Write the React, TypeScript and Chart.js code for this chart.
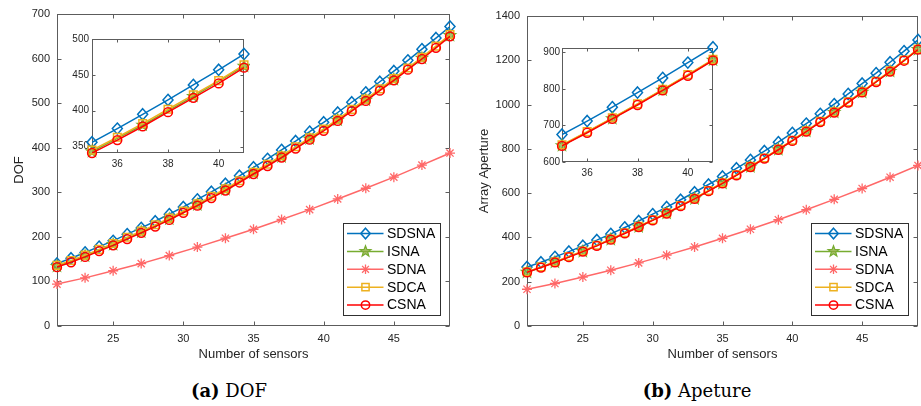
import React, { useEffect, useRef } from 'react';
import { Chart, registerables } from 'chart.js';
Chart.register(...registerables);

// ---------------- data ----------------
const sensors = [21, 22, 23, 24, 25, 26, 27, 28, 29, 30, 31, 32, 33, 34, 35, 36, 37, 38, 39, 40, 41, 42, 43, 44, 45, 46, 47, 48, 49];
const oddSensors = [21, 23, 25, 27, 29, 31, 33, 35, 37, 39, 41, 43, 45, 47, 49];

const dofSDSNA = [140, 152, 165, 178, 191, 206, 220, 235, 251, 267, 284, 301, 319, 337, 356, 375, 395, 415, 436, 457, 479, 502, 524, 548, 572, 596, 621, 646, 672];
const dofISNA = [134, 157, 183, 211, 240, 272, 306, 343, 380, 420, 462, 507, 553, 601, 652];
const dofSDNA = [94, 108, 124, 140, 158, 177, 197, 217, 239, 261, 285, 309, 334, 361, 388];
const dofSDCA = [136, 147, 159, 172, 185, 199, 213, 227, 242, 258, 274, 291, 308, 326, 345, 363, 382, 402, 422, 442, 464, 486, 509, 532, 555, 579, 603, 628, 654];
const dofCSNA = [132, 143, 155, 168, 181, 195, 209, 223, 238, 254, 270, 287, 304, 322, 341, 359, 378, 398, 418, 438, 460, 482, 505, 528, 551, 575, 599, 624, 650];

const apSDSNA = [266, 288, 312, 336, 362, 388, 416, 445, 474, 505, 537, 570, 604, 639, 675, 712, 750, 790, 830, 872, 914, 958, 1002, 1048, 1095, 1142, 1191, 1241, 1292];
const apISNA = [243, 288, 337, 391, 448, 509, 575, 645, 719, 797, 879, 965, 1056, 1150, 1249];
const apSDNA = [166, 192, 221, 252, 285, 320, 357, 396, 437, 480, 525, 572, 621, 672, 725];
const apSDCA = [245, 267, 290, 314, 339, 365, 393, 421, 450, 480, 511, 544, 577, 612, 647, 683, 721, 759, 799, 839, 881, 924, 967, 1012, 1058, 1105, 1152, 1201, 1251];
const apCSNA = [242, 264, 287, 311, 336, 362, 390, 418, 447, 477, 508, 541, 574, 609, 644, 680, 718, 756, 796, 836, 878, 921, 964, 1009, 1055, 1102, 1149, 1198, 1248];

const seriesNames = ['SDSNA', 'ISNA', 'SDNA', 'SDCA', 'CSNA'];

const mainXTicks = [25, 30, 35, 40, 45];
const dofYTicks = [0, 100, 200, 300, 400, 500, 600, 700];
const apYTicks = [0, 200, 400, 600, 800, 1000, 1200, 1400];
const insetXTicks = [36, 38, 40];
const dofInsetYTicks = [350, 400, 450, 500];
const apInsetYTicks = [600, 700, 800, 900];

// ---------------- styles ----------------
const FONT = '"Liberation Sans", Arial, Helvetica, sans-serif';
const TEXT = '#262626';
const AXIS = '#5c5c5c';

const STYLE: Record<string, { color: string; marker: string; order: number }> = {
  SDSNA: { color: '#0072BD', marker: 'diamond', order: 5 },
  ISNA: { color: '#77AC30', marker: 'pentagram', order: 4 },
  SDNA: { color: '#FF6868', marker: 'asterisk', order: 3 },
  SDCA: { color: '#EDB120', marker: 'square', order: 2 },
  CSNA: { color: '#FF0000', marker: 'circle', order: 1 },
};

function drawMarker(ctx: CanvasRenderingContext2D, kind: string, x: number, y: number, color: string, s = 1) {
  ctx.save();
  ctx.strokeStyle = color;
  ctx.lineWidth = 1.5;
  ctx.lineJoin = 'miter';
  ctx.beginPath();
  if (kind === 'diamond') {
    const hw = 5 * s, hh = 5.6 * s;
    ctx.moveTo(x, y - hh);
    ctx.lineTo(x + hw, y);
    ctx.lineTo(x, y + hh);
    ctx.lineTo(x - hw, y);
    ctx.closePath();
    ctx.stroke();
  } else if (kind === 'circle') {
    ctx.arc(x, y, 4.4 * s, 0, Math.PI * 2);
    ctx.stroke();
  } else if (kind === 'square') {
    const h = 3.8 * s;
    ctx.rect(x - h, y - h, 2 * h, 2 * h);
    ctx.stroke();
  } else if (kind === 'asterisk') {
    const r = 5 * s, d = r * 0.72;
    ctx.lineWidth = 1.3;
    ctx.moveTo(x - r, y); ctx.lineTo(x + r, y);
    ctx.moveTo(x, y - r); ctx.lineTo(x, y + r);
    ctx.moveTo(x - d, y - d); ctx.lineTo(x + d, y + d);
    ctx.moveTo(x - d, y + d); ctx.lineTo(x + d, y - d);
    ctx.stroke();
  } else if (kind === 'pentagram') {
    const ro = 6 * s, ri = 2.5 * s;
    for (let i = 0; i < 10; i++) {
      const r = i % 2 === 0 ? ro : ri;
      const a = -Math.PI / 2 + (i * Math.PI) / 5;
      const px = x + r * Math.cos(a), py = y + r * Math.sin(a);
      if (i === 0) ctx.moveTo(px, py); else ctx.lineTo(px, py);
    }
    ctx.closePath();
    ctx.fillStyle = 'rgba(140,170,60,0.75)';
    ctx.fill();
    ctx.lineWidth = 1.2;
    ctx.stroke();
  }
  ctx.restore();
}

const markerPlugin = (scale: number) => ({
  id: 'mlmarkers',
  afterDatasetDraw(chart: any, args: any) {
    const ds = chart.data.datasets[args.index];
    const ctx = chart.ctx;
    args.meta.data.forEach((pt: any) => drawMarker(ctx, ds.marker, pt.x, pt.y, ds.borderColor, scale));
  },
});

const framePlugin = (tick: number, bg: boolean) => ({
  id: 'mlframe',
  beforeDatasetsDraw(chart: any) {
    const { ctx, chartArea: a, scales } = chart;
    ctx.save();
    if (bg) {
      ctx.fillStyle = '#ffffff';
      ctx.fillRect(a.left, a.top, a.width, a.height);
    }
    ctx.strokeStyle = AXIS;
    ctx.lineWidth = 1;
    const L = Math.round(a.left) + 0.5, R = Math.round(a.right) - 0.5;
    const T = Math.round(a.top) + 0.5, B = Math.round(a.bottom) - 0.5;
    ctx.strokeRect(L, T, R - L, B - T);
    ctx.beginPath();
    scales.x.ticks.forEach((t: any) => {
      const px = Math.round(scales.x.getPixelForValue(t.value)) + 0.5;
      ctx.moveTo(px, B); ctx.lineTo(px, B - tick);
      ctx.moveTo(px, T); ctx.lineTo(px, T + tick);
    });
    scales.y.ticks.forEach((t: any) => {
      const py = Math.round(scales.y.getPixelForValue(t.value)) + 0.5;
      ctx.moveTo(L, py); ctx.lineTo(L + tick, py);
      ctx.moveTo(R, py); ctx.lineTo(R - tick, py);
    });
    ctx.stroke();
    ctx.restore();
  },
});

const legendPlugin = {
  id: 'mllegend',
  afterDraw(chart: any) {
    const a = chart.chartArea;
    const ctx = chart.ctx;
    const w = 97, h = 92;
    const r = Math.round(a.right - 10) + 0.5, b = Math.round(a.bottom - 11) + 0.5;
    const l = r - w, t = b - h;
    ctx.save();
    ctx.fillStyle = '#ffffff';
    ctx.fillRect(l, t, w, h);
    ctx.strokeStyle = '#303030';
    ctx.lineWidth = 1;
    ctx.strokeRect(l, t, w, h);
    chart.data.datasets.forEach((ds: any, i: number) => {
      const y = t + 10 + 17.9 * i;
      ctx.beginPath();
      ctx.strokeStyle = ds.borderColor;
      ctx.lineWidth = 1.5;
      ctx.moveTo(l + 3.5, y);
      ctx.lineTo(l + 40, y);
      ctx.stroke();
      drawMarker(ctx, ds.marker, l + 22, y, ds.borderColor, 0.95);
      ctx.fillStyle = '#000000';
      ctx.font = `14px ${FONT}`;
      ctx.textAlign = 'left';
      ctx.textBaseline = 'middle';
      ctx.fillText(ds.label, l + 43.5, y + 0.5);
    });
    ctx.restore();
  },
};

function buildDatasets(values: Record<string, number[]>, xMin: number, xMax: number) {
  return seriesNames.map((name) => {
    const ys = values[name];
    const xs = ys.length === sensors.length ? sensors : oddSensors;
    const pts = xs
      .map((x, i) => ({ x, y: ys[i] }))
      .filter((p) => p.x >= xMin && p.x <= xMax);
    const st = STYLE[name];
    return {
      label: name,
      data: pts,
      borderColor: st.color,
      backgroundColor: st.color,
      borderWidth: 1.5,
      pointRadius: 0,
      pointHoverRadius: 0,
      fill: false,
      tension: 0,
      order: st.order,
      marker: st.marker,
    } as any;
  });
}

type Cfg = {
  values: Record<string, number[]>;
  xMin: number; xMax: number; yMin: number; yMax: number;
  xTicks: number[]; yTicks: number[];
  yWidth: number; xHeight: number; padTop: number; padRight: number;
  tickFont: number; tickPadX: number; tickPadY: number;
  xTitle?: string; yTitle?: string; yTitlePad?: number;
  legend: boolean; tickLen: number; bg: boolean; markerScale: number;
};

function makeChart(canvas: HTMLCanvasElement, c: Cfg) {
  const plugins: any[] = [framePlugin(c.tickLen, c.bg), markerPlugin(c.markerScale)];
  if (c.legend) plugins.push(legendPlugin);
  return new Chart(canvas, {
    type: 'line',
    data: { datasets: buildDatasets(c.values, c.xMin, c.xMax) },
    options: {
      animation: false,
      responsive: false,
      maintainAspectRatio: false,
      devicePixelRatio: 1,
      events: [],
      layout: { padding: { left: 0, right: c.padRight, top: c.padTop, bottom: 0 } },
      plugins: { legend: { display: false }, tooltip: { enabled: false } },
      scales: {
        x: {
          type: 'linear',
          min: c.xMin,
          max: c.xMax,
          grid: { display: false, drawTicks: false },
          border: { display: false },
          ticks: { font: { family: FONT, size: c.tickFont }, color: TEXT, padding: c.tickPadX, maxRotation: 0, callback: (v: any) => String(v) },
          title: c.xTitle
            ? { display: true, text: c.xTitle, font: { family: FONT, size: 13 }, color: TEXT, padding: { top: 0, bottom: 0 } }
            : { display: false },
          afterBuildTicks: (s: any) => { s.ticks = c.xTicks.map((v) => ({ value: v })); },
          afterFit: (s: any) => { s.height = c.xHeight; },
        },
        y: {
          type: 'linear',
          min: c.yMin,
          max: c.yMax,
          grid: { display: false, drawTicks: false },
          border: { display: false },
          ticks: { font: { family: FONT, size: c.tickFont }, color: TEXT, padding: c.tickPadY, callback: (v: any) => String(v) },
          title: c.yTitle
            ? { display: true, text: c.yTitle, font: { family: FONT, size: 13 }, color: TEXT, padding: { top: c.yTitlePad ?? 0, bottom: 0 } }
            : { display: false },
          afterBuildTicks: (s: any) => { s.ticks = c.yTicks.map((v) => ({ value: v })); },
          afterFit: (s: any) => { s.width = c.yWidth; },
        },
      },
    } as any,
    plugins,
  });
}

const dofValues = { SDSNA: dofSDSNA, ISNA: dofISNA, SDNA: dofSDNA, SDCA: dofSDCA, CSNA: dofCSNA };
const apValues = { SDSNA: apSDSNA, ISNA: apISNA, SDNA: apSDNA, SDCA: apSDCA, CSNA: apCSNA };

const boxes = [
  { left: 0, top: 0, width: 460, height: 362 },
  { left: 460, top: 0, width: 461, height: 362 },
  { left: 60, top: 30, width: 190, height: 145 },
  { left: 528, top: 38, width: 190, height: 145 },
];

export default function App() {
  const r0 = useRef<HTMLCanvasElement>(null);
  const r1 = useRef<HTMLCanvasElement>(null);
  const r2 = useRef<HTMLCanvasElement>(null);
  const r3 = useRef<HTMLCanvasElement>(null);

  useEffect(() => {
    const charts: Chart[] = [];
    charts.push(makeChart(r0.current!, {
      values: dofValues, xMin: 21, xMax: 49, yMin: 0, yMax: 700,
      xTicks: mainXTicks, yTicks: dofYTicks,
      yWidth: 57, xHeight: 36, padTop: 14, padRight: 10,
      tickFont: 11, tickPadX: 6, tickPadY: 7,
      xTitle: 'Number of sensors', yTitle: 'DOF', yTitlePad: 12,
      legend: true, tickLen: 4, bg: false, markerScale: 1,
    }));
    charts.push(makeChart(r1.current!, {
      values: apValues, xMin: 21, xMax: 49, yMin: 0, yMax: 1400,
      xTicks: mainXTicks, yTicks: apYTicks,
      yWidth: 67, xHeight: 36, padTop: 16, padRight: 3,
      tickFont: 11, tickPadX: 6, tickPadY: 7,
      xTitle: 'Number of sensors', yTitle: 'Array Aperture', yTitlePad: 17,
      legend: true, tickLen: 4, bg: false, markerScale: 1,
    }));
    charts.push(makeChart(r2.current!, {
      values: dofValues, xMin: 35, xMax: 41, yMin: 341, yMax: 500,
      xTicks: insetXTicks, yTicks: dofInsetYTicks,
      yWidth: 32, xHeight: 22, padTop: 8, padRight: 6,
      tickFont: 10, tickPadX: 5, tickPadY: 3,
      legend: false, tickLen: 3, bg: true, markerScale: 1,
    }));
    charts.push(makeChart(r3.current!, {
      values: apValues, xMin: 35, xMax: 41, yMin: 600, yMax: 912,
      xTicks: insetXTicks, yTicks: apInsetYTicks,
      yWidth: 34, xHeight: 21, padTop: 10, padRight: 5,
      tickFont: 10, tickPadX: 5, tickPadY: 2,
      legend: false, tickLen: 3, bg: true, markerScale: 1,
    }));
    return () => charts.forEach((c) => c.destroy());
  }, []);

  const refs = [r0, r1, r2, r3];
  const caption = (left: number, label: string, text: string) => (
    <div
      style={{
        position: 'absolute', left, top: 378, width: 240, height: 26, lineHeight: '26px',
        textAlign: 'center', fontFamily: '"DejaVu Serif", "Liberation Serif", serif', fontSize: 18, color: '#000',
      }}
    >
      <b>{label}</b>{' ' + text}
    </div>
  );

  return (
    <div style={{ position: 'absolute', left: 0, top: 0, width: 921, height: 406, background: '#fff', overflow: 'hidden' }}>
      {refs.map((r, i) => (
        <canvas
          key={i}
          ref={r}
          width={boxes[i].width}
          height={boxes[i].height}
          style={{ position: 'absolute', left: boxes[i].left, top: boxes[i].top, width: boxes[i].width, height: boxes[i].height, display: 'block' }}
        />
      ))}
      {caption(229 - 120, '(a)', 'DOF')}
      {caption(697 - 120, '(b)', 'Apeture')}
    </div>
  );
}
